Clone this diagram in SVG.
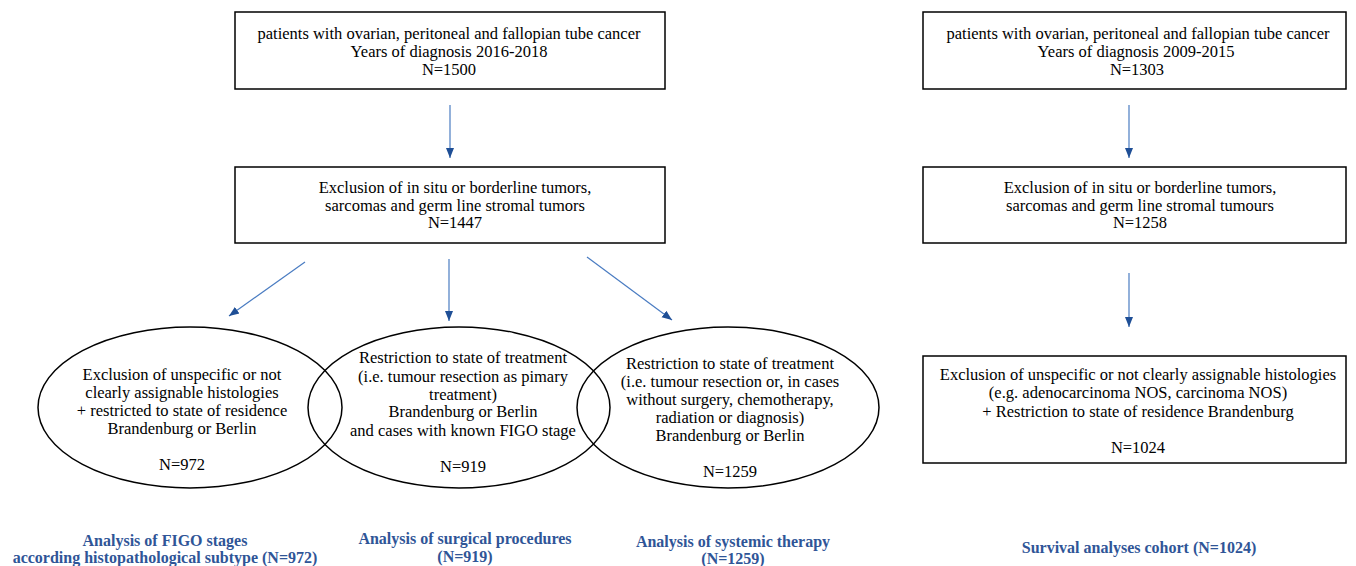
<svg xmlns="http://www.w3.org/2000/svg" width="1356" height="566" viewBox="0 0 1356 566">
<defs>
<style>
.box{fill:#fff;stroke:#000;stroke-width:1.5}
.ell{fill:none;stroke:#000;stroke-width:1.5}
.t{font-family:"Liberation Serif","Times New Roman",serif;font-size:16.5px;fill:#000;text-anchor:middle}
.lbl{font-family:"Liberation Serif","Times New Roman",serif;font-size:16px;font-weight:bold;fill:#2f5597;text-anchor:middle}
.arr{stroke:#4a7cc2;stroke-width:1.2;fill:none;marker-end:url(#ah)}
</style>
<marker id="ah" markerUnits="userSpaceOnUse" markerWidth="10" markerHeight="10" viewBox="0 0 10 10" refX="10" refY="5" orient="auto">
<path d="M0,1 L10,5 L0,9 Z" fill="#1f4f96"/>
</marker>
</defs>
<rect width="1356" height="566" fill="#fff"/>
<g id="connectors">
<line class="arr" x1="450" y1="105" x2="450" y2="158"/>
<line class="arr" x1="1129" y1="105" x2="1129" y2="158"/>
<line class="arr" x1="1129" y1="273" x2="1129" y2="327"/>
<line class="arr" x1="449" y1="259" x2="449" y2="321"/>
<line class="arr" x1="305" y1="262" x2="229" y2="316"/>
<line class="arr" x1="587" y1="257" x2="672" y2="320"/>
</g>
<g id="box-2016">
<rect class="box" x="235" y="12" width="430" height="77"/>
<text class="t" x="449" y="39">patients with ovarian, peritoneal and fallopian tube cancer</text>
<text class="t" x="449" y="57">Years of diagnosis 2016-2018</text>
<text class="t" x="449" y="75">N=1500</text>
</g>
<g id="box-excl-left">
<rect class="box" x="235" y="167" width="430" height="76"/>
<text class="t" x="455" y="193">Exclusion of in situ or borderline tumors,</text>
<text class="t" x="455" y="211">sarcomas and germ line stromal tumors</text>
<text class="t" x="455" y="228">N=1447</text>
</g>
<g id="ell-figo">
<ellipse class="ell" cx="190" cy="407.5" rx="152" ry="80.5"/>
<text class="t" x="182" y="380">Exclusion of unspecific or not</text>
<text class="t" x="182" y="398">clearly assignable histologies</text>
<text class="t" x="182" y="416">+ restricted to state of residence</text>
<text class="t" x="182" y="434">Brandenburg or Berlin</text>
<text class="t" x="182" y="470">N=972</text>
</g>
<g id="ell-surg">
<ellipse class="ell" cx="459" cy="407.5" rx="151" ry="80.5"/>
<text class="t" x="463" y="363">Restriction to state of treatment</text>
<text class="t" x="463" y="382">(i.e. tumour resection as pimary</text>
<text class="t" x="463" y="400">treatment)</text>
<text class="t" x="463" y="417">Brandenburg or Berlin</text>
<text class="t" x="463" y="436">and cases with known FIGO stage</text>
<text class="t" x="463" y="472">N=919</text>
</g>
<g id="ell-syst">
<ellipse class="ell" cx="728" cy="407.5" rx="151" ry="80.5"/>
<text class="t" x="730" y="369">Restriction to state of treatment</text>
<text class="t" x="730" y="387">(i.e. tumour resection or, in cases</text>
<text class="t" x="730" y="405">without surgery, chemotherapy,</text>
<text class="t" x="730" y="423">radiation or diagnosis)</text>
<text class="t" x="730" y="441">Brandenburg or Berlin</text>
<text class="t" x="730" y="477">N=1259</text>
</g>
<g id="box-2009">
<rect class="box" x="923" y="12" width="423" height="77"/>
<text class="t" x="1138" y="39">patients with ovarian, peritoneal and fallopian tube cancer</text>
<text class="t" x="1136" y="57">Years of diagnosis 2009-2015</text>
<text class="t" x="1137" y="75">N=1303</text>
</g>
<g id="box-excl-right">
<rect class="box" x="923" y="167" width="423" height="76"/>
<text class="t" x="1140" y="193">Exclusion of in situ or borderline tumors,</text>
<text class="t" x="1140" y="211">sarcomas and germ line stromal tumours</text>
<text class="t" x="1140" y="228">N=1258</text>
</g>
<g id="box-survival">
<rect class="box" x="923" y="356" width="423" height="107"/>
<text class="t" x="1138" y="380">Exclusion of unspecific or not clearly assignable histologies</text>
<text class="t" x="1138" y="398">(e.g. adenocarcinoma NOS, carcinoma NOS)</text>
<text class="t" x="1138" y="417">+ Restriction to state of residence Brandenburg</text>
<text class="t" x="1138" y="453">N=1024</text>
</g>
<g id="labels">
<text class="lbl" x="165" y="546">Analysis of FIGO stages</text>
<text class="lbl" x="165" y="563">according histopathological subtype (N=972)</text>
<text class="lbl" x="465" y="544">Analysis of surgical procedures</text>
<text class="lbl" x="465" y="562">(N=919)</text>
<text class="lbl" x="733" y="547">Analysis of systemic therapy</text>
<text class="lbl" x="733" y="564">(N=1259)</text>
<text class="lbl" x="1139" y="553">Survival analyses cohort (N=1024)</text>
</g>
</svg>
